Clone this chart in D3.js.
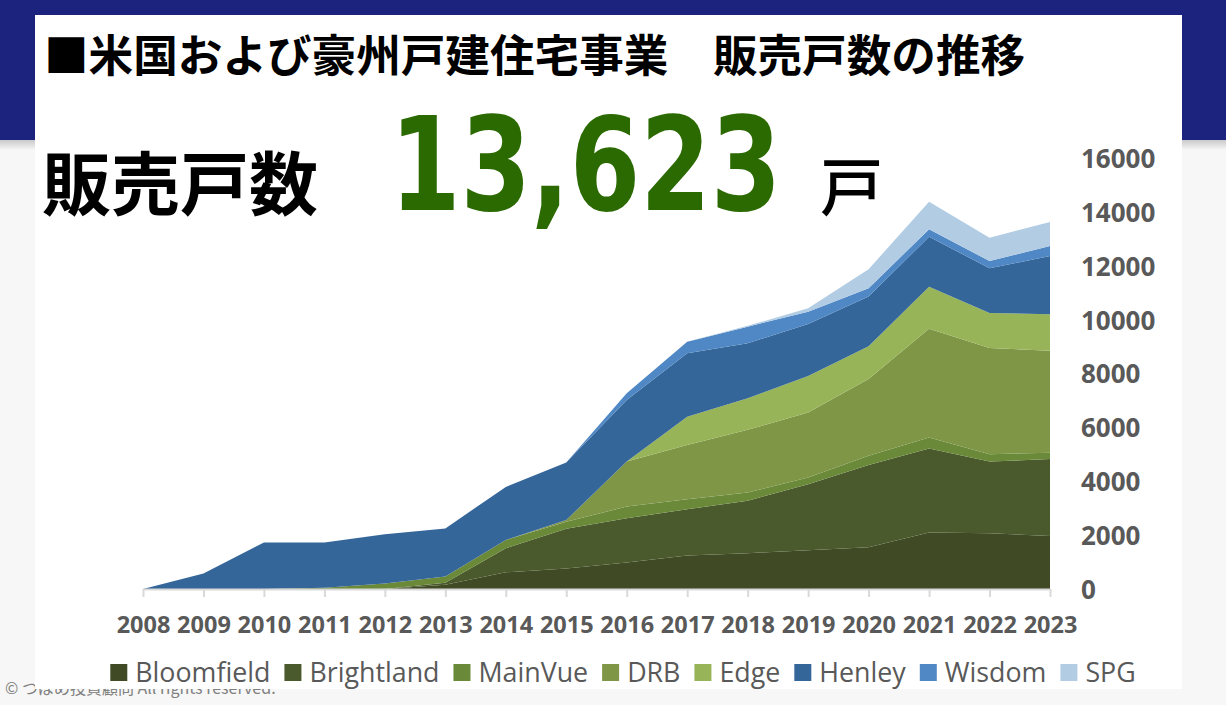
<!DOCTYPE html>
<html>
<head>
<meta charset="utf-8">
<script src="https://cdn.jsdelivr.net/npm/d3@7"></script>
<style>
  html, body { margin: 0; padding: 0; background: #f7f7f7; }
  svg { display: block; }
</style>
</head>
<body>
<svg id="chart" width="1226" height="705"></svg>
<script>
// ---- data ----
const years = ["2008","2009","2010","2011","2012","2013","2014","2015","2016","2017","2018","2019","2020","2021","2022","2023"];
const seriesNames = ["Bloomfield","Brightland","MainVue","DRB","Edge","Henley","Wisdom","SPG"];
const bloomfield = [0,0,0,0,0,160,620,760,980,1240,1330,1440,1550,2100,2070,1967];
const brightland = [0,0,0,0,0,70,890,1480,1650,1720,1950,2450,3050,3120,2660,2858];
const mainvue    = [0,0,0,50,200,230,310,260,430,370,300,250,350,400,270,237];
const drb        = [0,0,0,0,0,0,0,60,1670,2015,2330,2410,2850,4045,3945,3785];
const edge       = [0,0,0,0,0,0,0,0,0,1050,1175,1360,1215,1557,1305,1353];
const henley     = [0,580,1730,1680,1830,1790,1970,2140,2290,2355,2040,1927,1840,1856,1655,2161];
const wisdom     = [0,0,0,0,0,0,0,0,250,430,615,457,311,274,270,371];
const spg        = [0,0,0,0,0,0,0,0,0,0,30,126,705,1025,866,891];
const yTicks = [0,2000,4000,6000,8000,10000,12000,14000,16000];
const colors = ["#404a25","#4b5a2c","#6a8a3a","#7e9646","#97b558","#35669a","#4f88c5","#b2cce4"];
const titleText = "■米国および豪州戸建住宅事業　販売戸数の推移";
const headLabel = "販売戸数";
const totalText = "13,623";
const unitText = "戸";
const copyright = "© つばめ投資顧問 All rights reserved.";

const valuesBySeries = [bloomfield, brightland, mainvue, drb, edge, henley, wisdom, spg];
const table = years.map((y, i) => {
  const row = { year: y };
  seriesNames.forEach((s, k) => row[s] = valuesBySeries[k][i]);
  return row;
});

const svg = d3.select("#chart");

// ---- background ----
const defs = svg.append("defs");
const grad = defs.append("linearGradient").attr("id", "shadow").attr("x1", 0).attr("y1", 0).attr("x2", 0).attr("y2", 1);
grad.append("stop").attr("offset", 0).attr("stop-color", "#c9c9cc");
grad.append("stop").attr("offset", 1).attr("stop-color", "#f7f7f7");

svg.append("rect").attr("x", 0).attr("y", 0).attr("width", 1226).attr("height", 705).attr("fill", "#f7f7f7");
svg.append("rect").attr("x", 0).attr("y", 0).attr("width", 1226).attr("height", 140).attr("fill", "#1c237e");
svg.append("rect").attr("x", 0).attr("y", 140).attr("width", 1226).attr("height", 10).attr("fill", "url(#shadow)");

svg.append("text").attr("x", 5).attr("y", 694)
  .attr("font-family", "'Noto Sans CJK JP', 'Noto Sans', sans-serif")
  .attr("font-size", 16).attr("fill", "#808080").text(copyright);

svg.append("rect").attr("x", 35).attr("y", 15).attr("width", 1147).attr("height", 674).attr("fill", "#ffffff");

// ---- titles ----
svg.append("text").attr("x", 44).attr("y", 72)
  .attr("font-family", "'Noto Sans CJK JP', sans-serif").attr("font-weight", 700)
  .attr("font-size", 44.6).attr("fill", "#000").text(titleText);

svg.append("text").attr("x", 42).attr("y", 210)
  .attr("font-family", "'Noto Sans CJK JP', sans-serif").attr("font-weight", 700)
  .attr("font-size", 69).attr("fill", "#000").text(headLabel);

svg.append("text").attr("transform", "translate(390,210) scale(0.78,1)")
  .attr("font-family", "'DejaVu Sans', sans-serif").attr("font-weight", 700)
  .attr("font-size", 130).attr("fill", "#2b6a00")
  .text(totalText);

svg.append("text").attr("x", 820).attr("y", 210)
  .attr("font-family", "'Noto Sans CJK JP', sans-serif").attr("font-weight", 500)
  .attr("font-size", 63).attr("fill", "#000").text(unitText);

// ---- scales ----
const x = d3.scalePoint().domain(years).range([143, 1050]);
const y = d3.scaleLinear().domain([0, 16000]).range([589, 158]);

const stack = d3.stack().keys(seriesNames);
const layers = stack(table);

const area = d3.area()
  .x(d => x(d.data.year))
  .y0(d => y(d[0]))
  .y1(d => y(d[1]));

svg.append("g").selectAll("path").data(layers).join("path")
  .attr("d", area)
  .attr("fill", (d, i) => colors[i]);

// ---- axes ----
const xAxis = svg.append("g").attr("transform", "translate(0,589)")
  .call(d3.axisBottom(x).tickSize(8).tickSizeOuter(0).tickPadding(19));
xAxis.select(".domain").attr("stroke", "#d9d9d9").attr("stroke-width", 2);
xAxis.selectAll(".tick line").attr("stroke", "#d9d9d9").attr("stroke-width", 2);
xAxis.selectAll(".tick text")
  .attr("font-family", "'Open Sans', sans-serif").attr("font-weight", 700)
  .attr("font-size", 23.5).attr("fill", "#595959");

const yAxis = svg.append("g").attr("transform", "translate(1050,0)")
  .call(d3.axisRight(y).tickValues(yTicks).tickFormat(d3.format("d")).tickSize(0).tickPadding(31));
yAxis.select(".domain").remove();
yAxis.selectAll(".tick text")
  .attr("font-family", "'Open Sans', sans-serif").attr("font-weight", 700)
  .attr("font-size", 26).attr("fill", "#595959").attr("dy", "0.36em");

// ---- legend ----
const legend = svg.append("g");
const items = legend.selectAll("g").data(seriesNames).join("g");
items.append("rect").attr("width", 17).attr("height", 17).attr("y", 664)
  .attr("fill", (d, i) => colors[i]);
items.append("text").attr("x", 25).attr("y", 682)
  .attr("font-family", "'Open Sans', sans-serif").attr("font-size", 26.8)
  .attr("fill", "#595959").text(d => d);
let cx = 0;
const offsets = [];
items.each(function () {
  offsets.push(cx);
  const w = d3.select(this).select("text").node().getComputedTextLength();
  cx += 25 + w + 14;
});
const total = cx - 14;
const start = 623 - total / 2;
items.attr("transform", (d, i) => `translate(${start + offsets[i]},0)`);
</script>
</body>
</html>
